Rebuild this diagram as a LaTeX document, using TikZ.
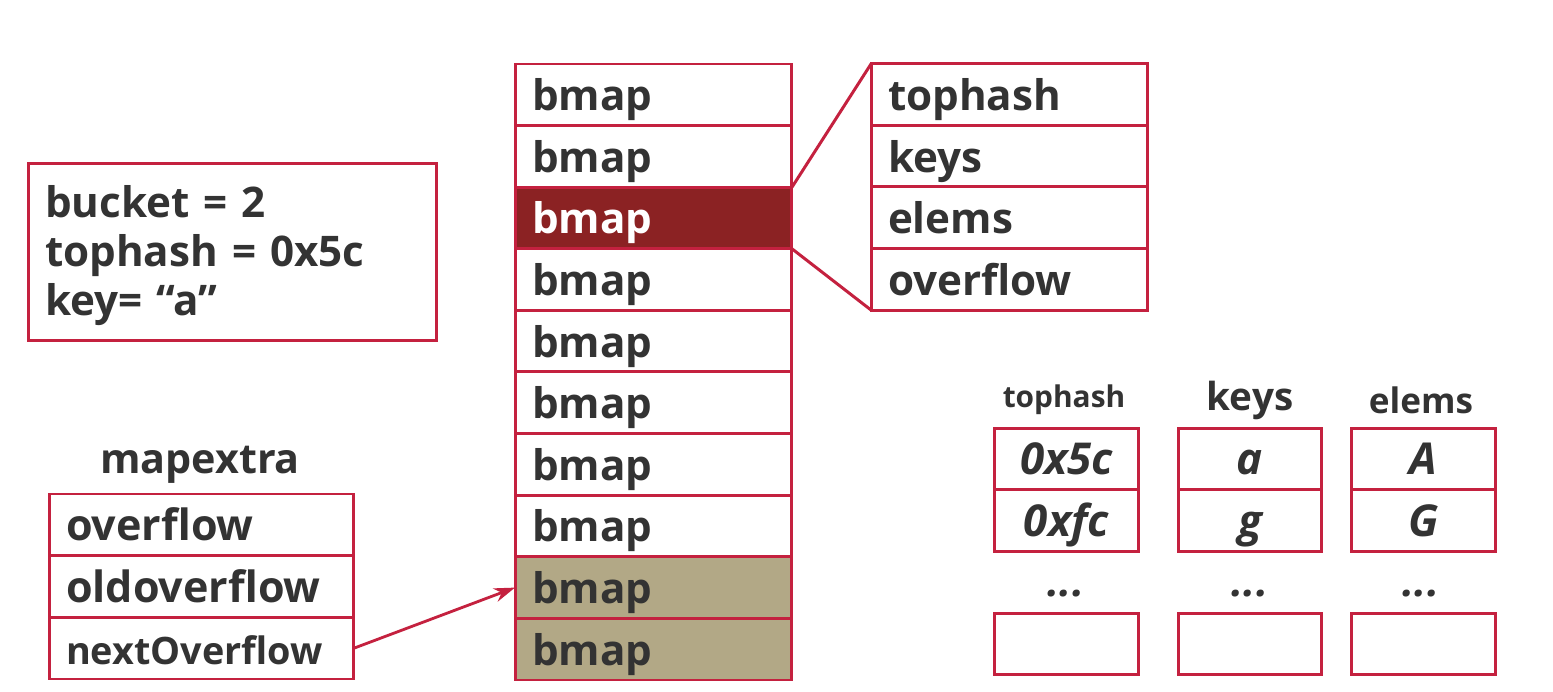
\documentclass[tikz,border=0pt]{standalone}
\usepackage{fontspec}
\setmainfont{Open Sans}
\usetikzlibrary{positioning, calc}
\usetikzlibrary{arrows.meta}

\definecolor{cellred}{HTML}{C4213F}
\definecolor{hotred}{HTML}{8B2223}
\definecolor{oldtan}{HTML}{B2A886}
\definecolor{inkgray}{HTML}{333333}

\tikzset{
  cell/.style={draw=cellred, line width=1.7pt, rectangle, outer sep=0pt,
    inner xsep=0.34cm, inner ysep=0pt, minimum height=1.232cm,
    text=inkgray, align=left, text height=20pt, text depth=2pt,
    font=\fontsize{24}{26}\selectfont\bfseries},
  bucketcell/.style={cell, fill=white, text width=4.86cm},
  fieldcell/.style={cell, fill=white, text width=4.86cm},
  extracell/.style={cell, fill=white, text width=5.42cm},
  slotcell/.style={cell, fill=white, inner xsep=0pt, align=center,
    minimum width=2.87cm, text height=21pt, text depth=3pt,
    font=\fontsize{25}{28}\selectfont\bfseries\itshape},
  notebox/.style={cell, text width=7.5cm, minimum height=3.56cm,
    text height=20pt, text depth=59.6pt,
    font=\fontsize{24}{28}\selectfont\bfseries},
  header/.style={text=inkgray, inner sep=0pt, font=\bfseries},
  dots/.style={header, font=\fontsize{24}{26}\selectfont\bfseries\itshape},
}

\begin{document}
\begin{tikzpicture}[x=0.02cm, y=-0.02cm, >={Stealth[length=12pt, width=8pt]}]
\useasboundingbox (0,0) rectangle (1553,692);

%------------------------------------------------
% colonna dei bucket (bmap)
%------------------------------------------------
\foreach \i in {1,...,10}
  \node[bucketcell] (bmap\i) at (653.5, {64+61.6*(\i-0.5)}) {bmap};

% bucket scelto e bucket di overflow
\node[bucketcell, fill=hotred, text=white] (bmap3) at (653.5, 218) {bmap};
\node[bucketcell, fill=oldtan] (bmap9) at (653.5, 587.6) {bmap};
\node[bucketcell, fill=oldtan] (bmap10) at (653.5, 649.2) {bmap};

%------------------------------------------------
% struttura di un bmap
%------------------------------------------------
\node[fieldcell] (ftophash)  at (1009.5, 94.75)  {tophash};
\node[fieldcell] (fkeys)     at (1009.5, 156.25) {keys};
\node[fieldcell] (felems)    at (1009.5, 217.75) {elems};
\node[fieldcell] (foverflow) at (1009.5, 279.25) {overflow};

\draw[cellred, line width=1.7pt] (bmap3.north east) -- (ftophash.north west);
\draw[cellred, line width=1.7pt] (bmap3.south east) -- (foverflow.south west);

%------------------------------------------------
% chiave cercata
%------------------------------------------------
\node[notebox] (lookup) at (232.5, 252)
  {bucket = 2\\tophash = 0x5c\\key=\ “a”};

%------------------------------------------------
% mapextra
%------------------------------------------------
\node[header, font=\fontsize{23.5}{26}\selectfont\bfseries] (mapextra) at (200, 465) {mapextra};
\node[extracell, font=\fontsize{24.5}{26}\selectfont\bfseries] (xoverflow)    at (201.5, 524.8) {overflow};
\node[extracell, font=\fontsize{24.5}{26}\selectfont\bfseries] (xoldoverflow) at (201.5, 586.5) {oldoverflow};
\node[extracell, font=\fontsize{21.5}{26}\selectfont\bfseries] (xnextoverflow) at (201.5, 648.2) {nextOverflow};

\draw[->, cellred, line width=1.6pt] (xnextoverflow.east) -- (bmap9.west);

%------------------------------------------------
% contenuto del bucket: tophash, keys, elems
%------------------------------------------------
\node[header, font=\fontsize{17}{20}\selectfont\bfseries] (htophash) at (1064, 400) {tophash};
\node[header, font=\fontsize{22}{26}\selectfont\bfseries] (hkeys)    at (1250, 400) {keys};
\node[header, font=\fontsize{20}{24}\selectfont\bfseries] (helems)   at (1421, 400) {elems};

\node[slotcell] (th1) at (1066.5, 459)   {0x5c};
\node[slotcell] (th2) at (1066.5, 520.5) {0xfc};
\node[slotcell] (thn) at (1066.5, 644)   {};
\node[slotcell] (k1)  at (1250, 459)     {a};
\node[slotcell] (k2)  at (1250, 520.5)   {g};
\node[slotcell] (kn)  at (1250, 644)     {};
\node[slotcell] (e1)  at (1423.5, 459)   {A};
\node[slotcell] (e2)  at (1423.5, 520.5) {G};
\node[slotcell] (en)  at (1423.5, 644)   {};

\node[dots] at (1066, 594) {...};
\node[dots] at (1250, 594) {...};
\node[dots] at (1421, 594) {...};

\end{tikzpicture}
\end{document}
